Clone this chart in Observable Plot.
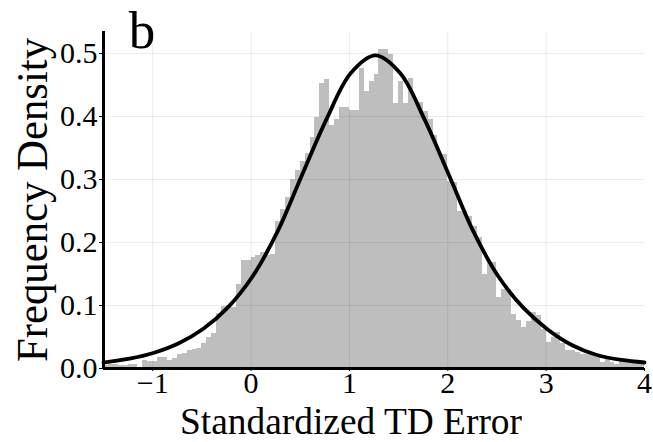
<!DOCTYPE html>
<html>
<head>
<meta charset="utf-8">
<script src="https://cdn.jsdelivr.net/npm/d3@7"></script>
<script src="https://cdn.jsdelivr.net/npm/@observablehq/plot@0.6"></script>
<style>
  html, body { margin: 0; padding: 0; background: #fff; }
  #chart { width: 653px; height: 442px; }
</style>
</head>
<body>
<div id="chart"></div>
<script>
// ---- data ----
const binStart = -1.5;
const binWidth = 0.05;
const density = [
  0.005, 0.006, 0.006, 0.004, 0.004, 0.006, 0.006, 0.002, 0.013, 0.011,
  0.011, 0.018, 0.018, 0.012, 0.016, 0.022, 0.024, 0.028, 0.030, 0.031,
  0.039, 0.050, 0.056, 0.087, 0.099, 0.100, 0.097, 0.134, 0.172, 0.172,
  0.176, 0.179, 0.184, 0.180, 0.181, 0.234, 0.252, 0.272, 0.300, 0.315,
  0.328, 0.342, 0.366, 0.399, 0.452, 0.459, 0.385, 0.395, 0.414, 0.414,
  0.410, 0.410, 0.477, 0.440, 0.456, 0.467, 0.506, 0.506, 0.498, 0.421,
  0.456, 0.421, 0.461, 0.425, 0.422, 0.408, 0.395, 0.370, 0.342, 0.340,
  0.297, 0.296, 0.250, 0.250, 0.242, 0.225, 0.208, 0.150, 0.168, 0.168,
  0.113, 0.126, 0.126, 0.086, 0.076, 0.065, 0.075, 0.089, 0.084, 0.062,
  0.041, 0.049, 0.057, 0.039, 0.028, 0.028, 0.026, 0.023, 0.022, 0.020,
  0.017, 0.010, 0.014, 0.010, 0.007, 0.011, 0.011, 0.008, 0.012, 0.010
];
const curveX = [-1.5, -1.235, -0.985, -0.735, -0.485, -0.235, 0.015, 0.265, 0.515, 0.765, 1.015, 1.265, 1.515, 1.765, 2.015, 2.265, 2.515, 2.765, 3.015, 3.265, 3.515, 3.765, 4.0];
const curveY = [0.0095, 0.0155, 0.025, 0.040, 0.063, 0.097, 0.146, 0.216, 0.306, 0.395, 0.469, 0.497, 0.469, 0.395, 0.306, 0.216, 0.146, 0.097, 0.062, 0.037, 0.0215, 0.0135, 0.0095];
const xTicks = [-1, 0, 1, 2, 3, 4];
const yTicks = [0, 0.1, 0.2, 0.3, 0.4, 0.5];
const xDomain = [-1.5, 4];
const yDomain = [0, 0.535];
const panelLabel = "b";
const xLabel = "Standardized TD Error";
const yLabel = "Frequency Density";

// ---- tables for the library ----
const bars = density.map((v, i) => ({x1: binStart + i * binWidth, x2: binStart + (i + 1) * binWidth, y: v}));
const curve = curveX.map((x, i) => ({x, y: curveY[i]}));

const font = "'Liberation Serif', 'Times New Roman', serif";

const chart = Plot.plot({
  width: 653,
  height: 442,
  marginLeft: 103,
  marginRight: 9,
  marginTop: 31,
  marginBottom: 74,
  style: {fontFamily: font, fontSize: "30px", background: "#fff", color: "#000", overflow: "visible"},
  x: {domain: xDomain},
  y: {domain: yDomain},
  marks: [
    Plot.rectY(bars, {x1: "x1", x2: "x2", y: "y", fill: "#bebebe", inset: 0, shapeRendering: "crispEdges"}),
    Plot.ruleY(yTicks.slice(1), {stroke: "#000", strokeOpacity: 0.08, strokeWidth: 1}),
    Plot.ruleX(xTicks.slice(0, -1), {stroke: "#000", strokeOpacity: 0.08, strokeWidth: 1}),
    Plot.line(curve, {x: "x", y: "y", curve: "catmull-rom", stroke: "#000", strokeWidth: 3.8}),
    Plot.axisX({ticks: xTicks, tickSize: 3, tickPadding: 0, label: null, tickFormat: d => d < 0 ? "\u2212" + Math.abs(d) : String(d)}),
    Plot.axisY({ticks: yTicks, tickSize: 4, tickPadding: 2, label: null, tickFormat: d3.format(".1f")}),
    Plot.ruleY([0], {x1: xDomain[0], x2: xDomain[1], stroke: "#000", strokeWidth: 3}),
    Plot.ruleX([xDomain[0]], {y1: yDomain[0], y2: yDomain[1], stroke: "#000", strokeWidth: 3})
  ]
});

const svg = d3.select(chart);
svg.append("text")
  .attr("x", 142).attr("y", 48)
  .attr("font-family", font).attr("font-size", 53)
  .attr("fill", "#000")
  .text(panelLabel);
svg.append("text")
  .attr("x", 351).attr("y", 434)
  .attr("text-anchor", "middle")
  .attr("font-family", font).attr("font-size", 38)
  .attr("textLength", 342).attr("lengthAdjust", "spacingAndGlyphs")
  .attr("fill", "#000")
  .text(xLabel);
svg.append("text")
  .attr("transform", "translate(47,200) rotate(-90)")
  .attr("text-anchor", "middle")
  .attr("font-family", font).attr("font-size", 45)
  .attr("textLength", 324).attr("lengthAdjust", "spacingAndGlyphs")
  .attr("fill", "#000")
  .text(yLabel);

document.getElementById("chart").appendChild(chart);
</script>
</body>
</html>
